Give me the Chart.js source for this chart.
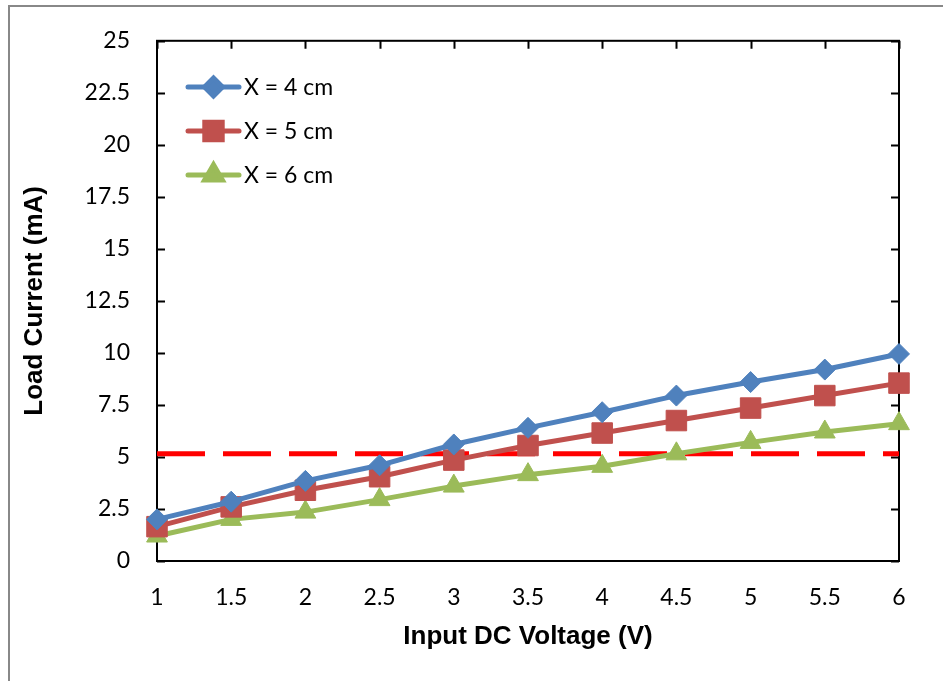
<!DOCTYPE html>
<html>
<head>
<meta charset="utf-8">
<script src="https://cdn.jsdelivr.net/npm/chart.js@4.4.1/dist/chart.umd.min.js"></script>
<style>
  html, body { margin: 0; padding: 0; background: #fff; }
  #wrap { width: 943px; height: 681px; position: relative; }
</style>
</head>
<body>
<div id="wrap"><canvas id="c"></canvas></div>
<script>
// ---- data ----
const voltages = [1, 1.5, 2, 2.5, 3, 3.5, 4, 4.5, 5, 5.5, 6];
const seriesX4 = [2.0, 2.85, 3.85, 4.6, 5.6, 6.4, 7.15, 7.95, 8.6, 9.2, 9.95];
const seriesX5 = [1.65, 2.6, 3.4, 4.05, 4.85, 5.55, 6.15, 6.75, 7.35, 7.95, 8.55];
const seriesX6 = [1.2, 2.0, 2.35, 2.95, 3.6, 4.15, 4.55, 5.15, 5.7, 6.2, 6.6];
const seriesNames = ['X = 4 cm', 'X = 5 cm', 'X = 6 cm'];
const thresholdX = [1, 6];
const thresholdY = [5.15, 5.15];
const xTicks = [1, 1.5, 2, 2.5, 3, 3.5, 4, 4.5, 5, 5.5, 6];
const yTicks = [0, 2.5, 5, 7.5, 10, 12.5, 15, 17.5, 20, 22.5, 25];

const pts = (xs, ys) => xs.map((x, i) => ({ x: x, y: ys[i] }));

const TICK_FONT = { family: 'Lato', size: 23 };
const TITLE_FONT = { family: 'Liberation Sans', size: 26, weight: 'bold' };

function seriesDS(label, data, color, style, radius) {
  return {
    label: label,
    data: pts(voltages, data),
    borderColor: color,
    backgroundColor: color,
    borderWidth: 5,
    pointStyle: style,
    pointRadius: radius,
    pointHoverRadius: radius,
    pointBackgroundColor: color,
    pointBorderColor: color,
    pointBorderWidth: 1,
    tension: 0,
    borderJoinStyle: 'round',
    borderCapStyle: 'round',
    clip: false
  };
}

const datasets = [
  seriesDS(seriesNames[0], seriesX4, '#4F81BD', 'rectRot', 10.5),
  seriesDS(seriesNames[1], seriesX5, '#C0504D', 'rect', 14.5),
  seriesDS(seriesNames[2], seriesX6, '#9BBB59', 'triangle', 12),
  {
    label: 'threshold',
    data: pts(thresholdX, thresholdY),
    borderColor: '#FF0000',
    borderWidth: 5,
    borderDash: [48, 18],
    borderCapStyle: 'butt',
    pointRadius: 0,
    pointHoverRadius: 0,
    clip: false
  }
];

const framePlugin = {
  id: 'frame',
  beforeDraw(chart) {
    const ctx = chart.ctx;
    ctx.save();
    ctx.fillStyle = '#fff';
    ctx.fillRect(0, 0, chart.width, chart.height);
    ctx.strokeStyle = '#888888';
    ctx.lineWidth = 2;
    ctx.strokeRect(9, 6, chart.width + 20, chart.height + 20);
    ctx.restore();
  },
  beforeDatasetsDraw(chart) {
    const ctx = chart.ctx;
    const a = chart.chartArea;
    const xs = chart.scales.x, ys = chart.scales.y;
    ctx.save();
    ctx.strokeStyle = '#000';
    ctx.lineWidth = 2;
    ctx.strokeRect(a.left, a.top, a.right - a.left, a.bottom - a.top);
    ctx.beginPath();
    const tl = 8;
    yTicks.forEach(v => {
      const y = Math.round(ys.getPixelForValue(v)) + 0.5;
      ctx.moveTo(a.left, y); ctx.lineTo(a.left + tl, y);
      ctx.moveTo(a.right, y); ctx.lineTo(a.right - tl, y);
    });
    xTicks.forEach(v => {
      const x = Math.round(xs.getPixelForValue(v)) + 0.5;
      ctx.moveTo(x, a.top); ctx.lineTo(x, a.top + tl);
    });
    ctx.stroke();
    ctx.restore();
  },
  afterDatasetsDraw(chart) {
    const ctx = chart.ctx;
    ctx.save();
    const rows = [87, 131, 175];
    for (let i = 0; i < 3; i++) {
      const ds = chart.data.datasets[i];
      const y = rows[i];
      ctx.strokeStyle = ds.borderColor;
      ctx.lineWidth = 5;
      ctx.lineCap = 'round';
      ctx.beginPath();
      ctx.moveTo(188, y); ctx.lineTo(239, y);
      ctx.stroke();
      ctx.fillStyle = ds.borderColor;
      ctx.strokeStyle = ds.borderColor;
      Chart.helpers.drawPoint(ctx, {
        pointStyle: ds.pointStyle,
        radius: ds.pointRadius * 0.85,
        rotation: 0,
        borderWidth: 1
      }, 213.5, y);
      ctx.fillStyle = '#000';
      ctx.font = '23px Lato';
      ctx.textBaseline = 'middle';
      ctx.textAlign = 'left';
      ctx.fillText(ds.label, 244, y + 1);
    }
    ctx.restore();
  }
};

new Chart(document.getElementById('c'), {
  type: 'line',
  data: { datasets: datasets },
  options: {
    responsive: true,
    maintainAspectRatio: false,
    animation: false,
    events: [],
    layout: { padding: { left: 10, top: 38, right: 44, bottom: 0 } },
    plugins: { legend: { display: false }, tooltip: { enabled: false } },
    scales: {
      x: {
        type: 'linear',
        min: 1, max: 6,
        afterBuildTicks(s) { s.ticks = xTicks.map(v => ({ value: v })); },
        afterFit(s) { s.height = 120; },
        grid: { display: false, drawTicks: false },
        border: { display: false },
        ticks: { font: TICK_FONT, color: '#000', padding: 23, maxRotation: 0, autoSkip: false,
                 callback: v => String(v) },
        title: { display: true, text: 'Input DC Voltage (V)', font: TITLE_FONT, color: '#000',
                 padding: { top: 0, bottom: 29 } }
      },
      y: {
        type: 'linear',
        min: 0, max: 25,
        afterBuildTicks(s) { s.ticks = yTicks.map(v => ({ value: v })); },
        afterFit(s) { s.width = 147; },
        grid: { display: false, drawTicks: false },
        border: { display: false },
        ticks: { font: TICK_FONT, color: '#000', padding: 27, autoSkip: false,
                 callback: v => String(v) },
        title: { display: true, text: 'Load Current (mA)', font: TITLE_FONT, color: '#000',
                 padding: { top: 9, bottom: 0 } }
      }
    }
  },
  plugins: [framePlugin]
});
</script>
</body>
</html>
